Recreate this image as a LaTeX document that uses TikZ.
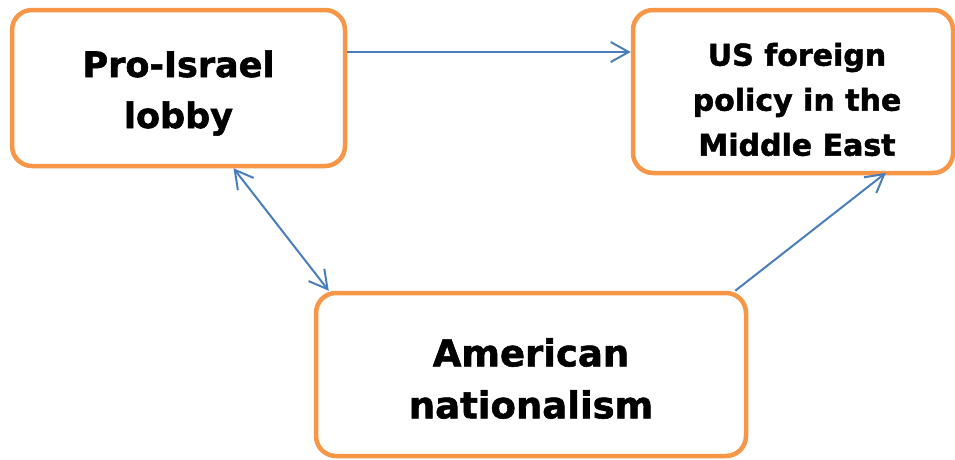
\documentclass[tikz,border=0pt]{standalone}
\usepackage{fontspec}
\setmainfont[BoldFeatures={FakeBold=1.6}]{DejaVu Sans}
\usepackage{tikz}
\usetikzlibrary{arrows.meta}
\definecolor{boxorange}{RGB}{247,150,70}
\definecolor{arrowblue}{RGB}{74,126,187}
\tikzstyle{box} = [draw=boxorange,line width=4.5pt,rounded corners=20pt,fill=white,inner sep=0pt]
\tikzstyle{boxtext} = [align=center,inner sep=0pt]
\tikzstyle{arrow} = [draw=arrowblue,line width=2pt,->,>={Straight Barb[length=18pt,width=20pt,line width=2pt]}]

\begin{document}
\begin{tikzpicture}[x=1pt,y=-1pt]
            \useasboundingbox (0,0) rectangle (955,459);
            \node[box,minimum width=333pt,minimum height=156pt,
                label={[boxtext,yshift=-5pt,font=\bfseries\fontsize{35}{51}\selectfont]center:Pro-Israel\\lobby}] (lobby) at (178.5,88) {};
            \node[box,minimum width=320pt,minimum height=163pt,
                label={[boxtext,yshift=-8pt,xshift=4pt,font=\bfseries\fontsize{30}{45}\selectfont]center:US foreign\\policy in the\\Middle East}] (policy) at (793,91.5) {};
            \node[box,minimum width=430pt,minimum height=163pt,
                label={[boxtext,yshift=-4pt,font=\bfseries\fontsize{37}{52}\selectfont]center:American\\nationalism}] (nationalism) at (531,374.5) {};
            \draw[arrow] (lobby.east |- 0,52) -- (policy.west |- 0,52);
            \draw[arrow,<->] ([xshift=55pt]lobby.south) -- ([xshift=15pt]nationalism.north west);
            \draw[arrow,shorten >=-4pt] ([xshift=-13pt]nationalism.north east) -- ([xshift=252pt]policy.south west);
        \end{tikzpicture}
\end{document}
